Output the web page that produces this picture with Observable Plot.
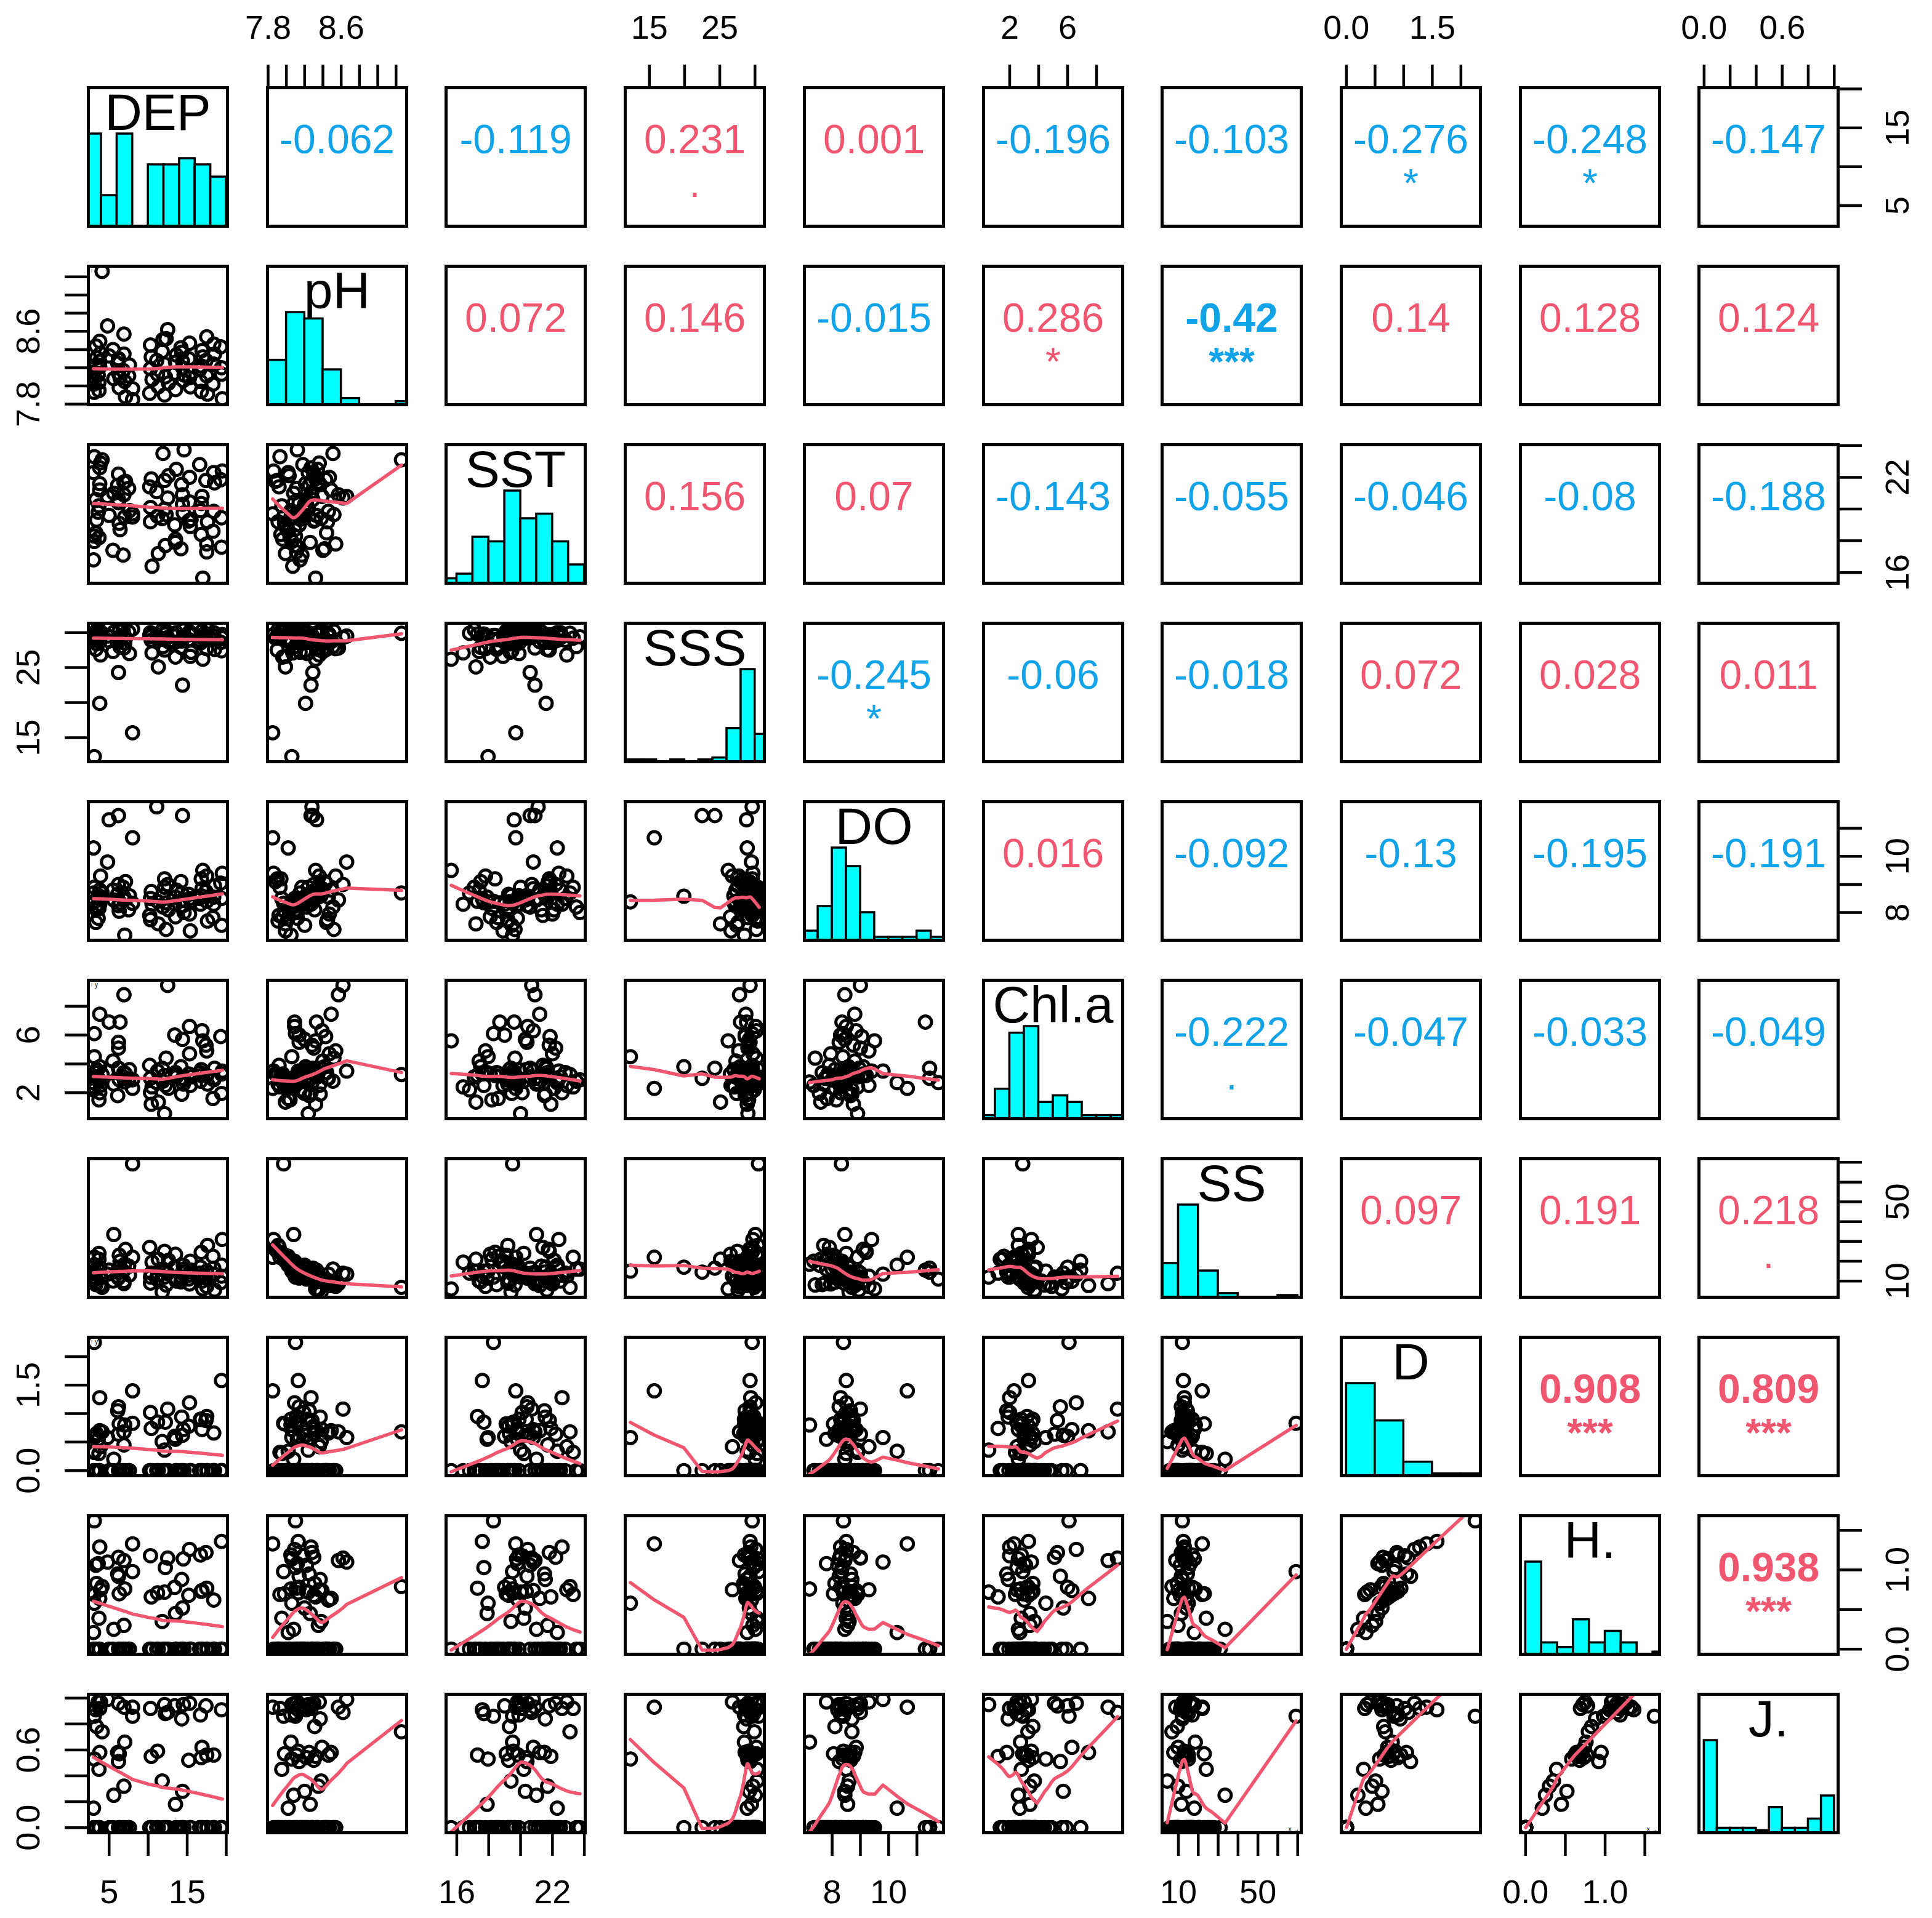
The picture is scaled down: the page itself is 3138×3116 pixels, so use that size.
<!DOCTYPE html>
<html>
<head>
<meta charset="utf-8">
<script src="https://cdn.jsdelivr.net/npm/d3@7"></script>
<script src="https://cdn.jsdelivr.net/npm/@observablehq/plot@0.6"></script>
<style>
html, body { margin: 0; padding: 0; background: #ffffff; }
#chart { position: relative; width: 3138px; height: 3116px; background: #ffffff; overflow: hidden; }
#chart svg { position: absolute; overflow: visible; background: transparent; }
</style>
</head>
<body>
<div id="chart"></div>
<script>
// ---------------- data (84 samples) ----------------
const names = ["DEP", "pH", "SST", "SSS", "DO", "Chl.a", "SS", "D", "H.", "J."];

const DEP = [3.1,3.0,3.1,3.3,3.1,3.4,3.0,3.3, 3.8,3.7,3.8,3.6,3.9,3.8,3.7, 4.1, 4.8,5.0, 5.6,5.5,
  6.2,6.1,6.3,6.2,6.2,6.4, 6.9,7.0,6.9,6.8,7.1, 7.6,7.5, 8.0,8.0, 10.3,10.4,10.2,10.5,10.3,
  11.2,11.1,11.3, 11.8,11.9, 12.1,12.2,12.1,12.3, 12.5,12.6, 13.5,13.4,13.6,13.5,
  14.4,14.3,14.5,14.4,14.6,14.2, 15.3,15.2,15.4,15.3,15.5, 16.8,16.7,16.9,16.8,16.6,17.0,
  17.5,17.4,17.6,17.5, 18.4,18.5,18.3,18.4, 19.4,19.3,19.5,19.4];

const pH = [8.10,8.02,8.06,8.22,7.93,8.31,8.15,8.44,8.27,7.95, 8.49,8.12,8.36,8.21,8.04,9.26,8.66,8.33,8.08,8.40,
  8.14,8.25,7.98,8.30,8.29,8.09,8.35,8.05,8.57,8.17, 7.88,8.23,8.11,7.97,7.85,8.19,8.32,7.92,8.07,8.45,
  8.13,8.28,7.99,8.38,8.51,8.24,8.10,7.90,8.52,8.62, 8.03,8.26,8.14,8.34,7.96,8.20,8.37,8.06,8.27,8.12,
  8.42,8.09,8.30,7.99,8.47,8.15,8.22,8.05,8.39,7.94, 8.18,8.32,8.11,8.28,7.91,8.54,8.46,8.35,8.02,8.24,
  8.13,8.43,7.86,8.20];

const SST = [18.3,22.3,17.96,20.6,23.3,19.3,16.8,18.5,22.6,20.2, 21.2,19.8,22.9,21.6,18.2,23.1,20.8,19.6,21.0,17.4,
  20.4,21.5,19.1,22.2,20.6,18.7,21.7,19.5,20.9,17.1, 21.75,19.9,21.3,19.5,19.7,20.1,21.9,21.4,16.4,19.2,
  19.55,21.1,17.2,19.4,23.5,20.0,17.7,21.8,19.65,20.7, 22.1,17.9,19.0,22.5,18.1,20.3,21.55,19.75,20.9,23.73,
  17.5,20.45,19.25,18.9,22.0,19.35,20.35,19.9,20.8,18.4, 22.8,15.65,17.3,21.8,19.2,17.8,19.85,21.65,18.6,22.3,
  17.6,21.85,22.4,19.45];

const SSS = [29.6,28.9,12.3,30.1,29.2,28.4,29.9,27.6,29.4,30.3, 28.7,30.6,26.8,19.9,29.1,29.9,29.5,28.8,30.05,27.3,
  29.3,28.6,30.2,29.0,24.3,27.95,29.7,28.5,27.8,30.4, 29.2,27.0,30.1,30.5,15.7,29.4,28.9,29.6,27.1,30.0,
  29.1,29.6,25.1,30.3,28.0,29.0,29.8,27.5,30.2,29.3, 28.7,29.5,28.6,30.0,26.5,29.2,28.8,30.35,22.5,29.4,
  27.9,30.1,29.0,26.6,29.7,27.2,29.3,28.5,30.2,29.6, 28.9,26.2,29.8,29.1,30.4,27.7,29.5,27.6,29.0,30.0,
  29.3,28.6,29.7,27.4];

const DO = [8.4,10.3,8.38,8.2,8.9,8.1,8.7,7.65,8.3,8.5, 8.8,7.8,9.3,8.58,8.15,8.7,9.8,11.3,8.45,8.8,
  8.25,8.65,8.05,9.0,11.45,8.35,8.55,7.2,8.45,8.9, 9.1,8.6,8.1,8.33,10.66,8.5,8.75,7.9,8.3,7.75,
  8.4,11.76,7.6,8.6,8.2,8.9,8.35,9.2,7.4,9.0, 8.1,8.55,8.3,8.8,7.85,8.45,8.7,8.25,11.45,8.0,
  9.1,8.5,8.65,7.35,7.95,8.4,8.6,8.3,8.85,9.2, 8.5,9.5,8.4,8.75,7.7,9.3,8.55,8.95,7.82,8.3,
  8.5,9.05,9.4,7.55];

const Chla = [6.1,2.7,4.5,3.1,2.4,3.6,2.2,3.4,2.0,2.8, 7.45,3.0,2.5,3.8,1.5,3.26,3.5,6.9,2.6,4.2,
  5.5,1.8,2.9,5.1,3.7,6.9,3.4,2.75,8.8,3.1, 3.3,3.6,2.9,2.9,2.3,2.0,1.2,3.9,2.4,3.0,
  3.5,2.7,1.35,3.7,2.8,0.55,2.5,3.2,4.4,9.45, 2.3,3.4,6.0,3.1,3.3,5.7,1.9,2.6,3.0,2.9,
  3.8,6.6,3.3,2.5,4.7,3.1,3.6,2.8,6.3,3.2, 3.4,5.6,3.2,5.3,2.6,4.9,3.0,3.7,1.6,2.9,
  3.3,5.9,3.5,1.95];

const SS = [12,18,15,11,22,9.4,14,8.2,13,24, 7.7,16,12.5,17,21,6.8,13.5,15.5,33.5,10,
  11.5,14.5,23,12,16.5,20,9.8,18.5,8.7,15, 26,13,17.5,69.2,22,12,14,27,19.5,9.0,
  13,11,21,4.4,16,12,15,25,8.0,13.9, 20.5,11.5,17,10,23.5,14,12,18,14.5,16,
  9.6,13,11,20,8.5,15.5,12.5,17,9.9,24.5, 14,6.0,15,11.5,28,7.3,13.5,5.5,22.5,16.5,
  12.5,9.2,31,18];

const D = [2.25,0.34,0.58,0.62,0.32,0.65,0,0,1.28,0.30, 0.70,0.55,0.42,0,0,0.68,0.58,0,0.20,0,
  1.12,1.05,0.82,0.64,0,0,0.45,0.80,0.68,0, 0,0,0,0.83,1.40,1.02,0.74,0,0,0,
  0.85,0,0,0.51,0,0.36,0.85,0,0,1.08, 0,0.55,0.60,0,0,0.62,0.94,0.72,0,0,
  0,1.19,0.78,0,0,0,0.90,0.90,0.72,0, 0,0,0.95,0.88,0,0,0.66,0,0,0,
  1.58,0,0,0];

const Hs = [1.62,0.21,0.58,1.06,0.69,0.83,0,0,1.29,0.39, 0.64,1.08,0.75,0,0,0.79,1.10,0,0.25,0,
  0.92,0.95,0.70,1.16,0,0,0.30,0.76,1.12,0, 0,0,0,0.98,1.33,1.18,0.66,0,0,0,
  0.71,0,0,0.35,0,0.72,1.03,0,0,1.15, 0,0.45,0.78,0,0,0.52,0.88,1.14,0,0,
  0,1.26,0.68,0,0,0,0.73,1.19,0.74,0, 0,0,0.77,1.22,0,0,0.62,0,0,0,
  1.36,0,0,0];

const Js = [0.86,0.15,0.53,0.91,0.92,0.78,0,0,0.92,0.45, 0.58,0.97,0.97,0,0,0.74,0.99,0,0.25,0,
  0.51,0.58,0.57,0.96,0,0,0.32,0.66,0.93,0, 0,0,0,0.86,0.93,0.92,0.55,0,0,0,
  0.59,0,0,0.36,0,0.95,0.88,0,0,0.89, 0,0.18,0.94,0,0,0.28,0.84,0.95,0,0,
  0,0.96,0.52,0,0,0,0.54,0.87,0.62,0, 0,0,0.56,0.94,0,0,0.56,0,0,0,
  0.91,0,0,0];

// histogram breaks (as in the diagonal panels)
const depBreaks = [2,4,6,8,10,12,14,16,18,20];
const phBreaks = [7.8,8.0,8.2,8.4,8.6,8.8,9.0,9.2,9.4];
const sstBreaks = [15,16,17,18,19,20,21,22,23,24];
const sssBreaks = [12,14,16,18,20,22,24,26,28,30,32];
const doBreaks = [7,7.5,8,8.5,9,9.5,10,10.5,11,11.5,12];
const chlBreaks = [0,1,2,3,4,5,6,7,8,9,10];
const ssBreaks = [0,10,20,30,40,50,60,70];
const dBreaks = [0,0.5,1,1.5,2,2.5];
const hBreaks = [0,0.2,0.4,0.6,0.8,1.0,1.2,1.4,1.6,1.8];
const jBreaks = [0,0.1,0.2,0.3,0.4,0.5,0.6,0.7,0.8,0.9,1.0];

// axis ticks and the tick labels that are printed
const depTicks = [5,10,15,20],            depLabels = ["5","15"];
const phTicks = [7.8,8.0,8.2,8.4,8.6,8.8,9.0,9.2], phLabels = ["7.8","8.6"];
const sstTicks = [16,18,20,22,24],        sstLabels = ["16","22"];
const sssTicks = [15,20,25,30],           sssLabels = ["15","25"];
const doTicks = [8,9,10,11],              doLabels = ["8","10"];
const chlTicks = [2,4,6,8],               chlLabels = ["2","6"];
const ssTicks = [10,20,30,40,50,60,70],   ssLabels = ["10","50"];
const dTicks = [0,0.5,1,1.5,2],           dLabels = ["0.0","1.5"];
const hTicks = [0,0.5,1,1.5],             hLabels = ["0.0","1.0"];
const jTicks = [0,0.2,0.4,0.6,0.8,1.0],   jLabels = ["0.0","0.6"];

// correlation coefficients (upper triangle, row by row) and significance marks
const corrValues = [
  -0.062, -0.119, 0.231, 0.001, -0.196, -0.103, -0.276, -0.248, -0.147,
  0.072, 0.146, -0.015, 0.286, -0.42, 0.14, 0.128, 0.124,
  0.156, 0.07, -0.143, -0.055, -0.046, -0.08, -0.188,
  -0.245, -0.06, -0.018, 0.072, 0.028, 0.011,
  0.016, -0.092, -0.13, -0.195, -0.191,
  -0.222, -0.047, -0.033, -0.049,
  0.097, 0.191, 0.218,
  0.908, 0.809,
  0.938];
const corrStars = [
  "", "", ".", "", "", "", "*", "*", "",
  "", "", "", "*", "***", "", "", "",
  "", "", "", "", "", "", "",
  "*", "", "", "", "", "",
  "", "", "", "", "",
  ".", "", "", "",
  "", "", ".",
  "***", "***",
  "***"];

// ---------------- helpers ----------------
const cols = [DEP, pH, SST, SSS, DO, Chla, SS, D, Hs, Js];
const breaksList = [depBreaks, phBreaks, sstBreaks, sssBreaks, doBreaks, chlBreaks, ssBreaks, dBreaks, hBreaks, jBreaks];
const ticksList = [depTicks, phTicks, sstTicks, sssTicks, doTicks, chlTicks, ssTicks, dTicks, hTicks, jTicks];
const labelsList = [depLabels, phLabels, sstLabels, sssLabels, doLabels, chlLabels, ssLabels, dLabels, hLabels, jLabels];

const FONT = "'Liberation Sans', Arial, Helvetica, sans-serif";
const RED = "#F0566F", BLUE = "#12A2E8", CYAN = "#00FFFF";
const X0 = 143, Y0 = 142, PX = 290.7, PY = 290, PW = 226, PHH = 225;

const usr = cols.map(v => { const [a, b] = d3.extent(v); const d = 0.04 * (b - a); return [a - d, b + d]; });

function hist(v, br) {
  const fuzz = 1e-7 * d3.median(d3.pairs(br, (a, b) => b - a));
  const fb = br.map((b, k) => k === 0 ? b - fuzz : b + fuzz);
  const counts = new Array(br.length - 1).fill(0);
  for (const x of v) {
    for (let k = 0; k < counts.length; k++) {
      if (x > fb[k] && x <= fb[k + 1]) { counts[k]++; break; }
    }
  }
  return counts.map((c, k) => ({x0: br[k], x1: br[k + 1], count: c}));
}

// port of R's lowess (clowess), f = 2/3, iter = 3
function lowess(xIn, yIn, f = 2 / 3, nsteps = 3) {
  const o = d3.range(xIn.length).sort((a, b) => (xIn[a] - xIn[b]) || (a - b));
  const x = o.map(i => xIn[i]), y = o.map(i => yIn[i]);
  const n = x.length;
  const ys = new Float64Array(n), rw = new Float64Array(n).fill(1), res = new Float64Array(n), w = new Float64Array(n);
  const range = x[n - 1] - x[0];
  const delta = 0.01 * range;
  const ns = Math.max(2, Math.min(n, Math.floor(f * n + 1e-7)));
  function lowest(xs, nleft, nright, userw) {
    const h = Math.max(xs - x[nleft], x[nright] - xs);
    const h9 = 0.999 * h, h1 = 0.001 * h;
    let a = 0, j = nleft;
    while (j < n) {
      w[j] = 0;
      const r = Math.abs(x[j] - xs);
      if (r <= h9) {
        w[j] = r <= h1 ? 1 : Math.pow(1 - Math.pow(r / h, 3), 3);
        if (userw) w[j] *= rw[j];
        a += w[j];
      } else if (x[j] > xs) break;
      j++;
    }
    const nrt = j - 1;
    if (a <= 0) return null;
    for (j = nleft; j <= nrt; j++) w[j] /= a;
    if (h > 0) {
      a = 0;
      for (j = nleft; j <= nrt; j++) a += w[j] * x[j];
      let b = xs - a, c = 0;
      for (j = nleft; j <= nrt; j++) c += w[j] * (x[j] - a) * (x[j] - a);
      if (Math.sqrt(c) > 0.001 * range) {
        b /= c;
        for (j = nleft; j <= nrt; j++) w[j] *= b * (x[j] - a) + 1;
      }
    }
    let s = 0;
    for (j = nleft; j <= nrt; j++) s += w[j] * y[j];
    return s;
  }
  for (let iter = 1; iter <= nsteps + 1; iter++) {
    let nleft = 0, nright = ns - 1, last = -1, i = 0;
    for (;;) {
      if (nright < n - 1) {
        const d1 = x[i] - x[nleft], d2 = x[nright + 1] - x[i];
        if (d1 > d2) { nleft++; nright++; continue; }
      }
      const v = lowest(x[i], nleft, nright, iter > 1);
      ys[i] = v === null ? y[i] : v;
      if (last < i - 1) {
        const denom = x[i] - x[last];
        for (let j = last + 1; j < i; j++) {
          const alpha = (x[j] - x[last]) / denom;
          ys[j] = alpha * ys[i] + (1 - alpha) * ys[last];
        }
      }
      last = i;
      const cut = x[last] + delta;
      for (i = last + 1; i < n; i++) {
        if (x[i] > cut) break;
        if (x[i] === x[last]) { ys[i] = ys[last]; last = i; }
      }
      i = Math.max(last + 1, i - 1);
      if (last >= n - 1) break;
    }
    for (let k = 0; k < n; k++) res[k] = y[k] - ys[k];
    if (iter > nsteps) break;
    const ar = Array.from(res, Math.abs);
    const sc = d3.sum(ar) / n;
    const s = ar.slice().sort((a, b) => a - b);
    const m1 = Math.floor(n / 2);
    const cmad = n % 2 === 0 ? 3 * (s[m1] + s[m1 - 1]) : 6 * s[m1];
    if (cmad < 1e-7 * sc) break;
    const c9 = 0.999 * cmad, c1 = 0.001 * cmad;
    for (let k = 0; k < n; k++) {
      const r = ar[k];
      rw[k] = r <= c1 ? 1 : r <= c9 ? Math.pow(1 - (r / cmad) * (r / cmad), 2) : 0;
    }
  }
  return Array.from(x, (xv, k) => ({x: xv, y: ys[k]}));
}

const corrMap = new Map();
{ let k = 0; for (let i = 0; i < 10; i++) for (let j = i + 1; j < 10; j++) { corrMap.set(i + "," + j, {v: corrValues[k], s: corrStars[k]}); k++; } }

function edgeMarks(i, j) {
  const m = [];
  const tk = {tickSize: 38, tickFormat: () => "", strokeWidth: 4.5};
  const lab = {fontSize: 54, fontFamily: FONT, lineAnchor: "middle", textAnchor: "middle", fill: "black"};
  if (i === 0 && j % 2 === 1) {
    m.push(Plot.axisX(ticksList[j], {anchor: "top", ...tk}));
    m.push(Plot.text(labelsList[j], {x: d => +d, text: d => d, frameAnchor: "top", dy: -97, ...lab}));
  }
  if (i === 9 && j % 2 === 0) {
    m.push(Plot.axisX(ticksList[j], {anchor: "bottom", ...tk}));
    m.push(Plot.text(labelsList[j], {x: d => +d, text: d => d, frameAnchor: "bottom", dy: 97, ...lab}));
  }
  if (j === 0 && i % 2 === 1) {
    m.push(Plot.axisY(ticksList[i], {anchor: "left", ...tk}));
    m.push(Plot.text(labelsList[i], {y: d => +d, text: d => d, frameAnchor: "left", dx: -97, rotate: -90, ...lab}));
  }
  if (j === 9 && i % 2 === 0) {
    m.push(Plot.axisY(ticksList[i], {anchor: "right", ...tk}));
    m.push(Plot.text(labelsList[i], {y: d => +d, text: d => d, frameAnchor: "right", dx: 97, rotate: -90, ...lab}));
  }
  return m;
}

function panel(i, j) {
  const frame = Plot.frame({stroke: "black", strokeWidth: 5});
  const base = {width: PW, height: PHH, margin: 0, style: {overflow: "visible", background: "transparent"}};
  if (i === j) {
    const bins = hist(cols[i], breaksList[i]);
    const mx = d3.max(bins, b => b.count);
    return Plot.plot({
      ...base,
      x: {domain: usr[j], axis: null},
      y: {domain: [0, 1.5 * mx], axis: null},
      marks: [
        Plot.rect(bins, {x1: "x0", x2: "x1", y1: 0, y2: "count", fill: CYAN, stroke: "black", strokeWidth: 3.5, clip: true}),
        Plot.text([names[i]], {text: d => d, frameAnchor: "top", lineAnchor: "top", dy: 9, fontSize: 84, fontFamily: FONT, fill: "black"}),
        frame
      ]
    });
  }
  if (i > j) {
    const xs = cols[j], ysv = cols[i];
    const idx = d3.range(xs.length);
    const sm = lowess(xs, ysv);
    return Plot.plot({
      ...base,
      x: {domain: usr[j], axis: null},
      y: {domain: usr[i], axis: null},
      marks: [
        Plot.dot(idx, {x: k => xs[k], y: k => ysv[k], r: 10, stroke: "black", strokeWidth: 5, fill: "none", clip: true}),
        Plot.line(sm, {x: "x", y: "y", stroke: RED, strokeWidth: 5.5, clip: true}),
        ...edgeMarks(i, j),
        frame
      ]
    });
  }
  const c = corrMap.get(i + "," + j);
  const col = c.v >= 0 ? RED : BLUE;
  const bold = c.s === "***";
  const marks = [
    Plot.text([String(c.v)], {text: d => d, frameAnchor: "top", dy: 85, lineAnchor: "middle", fontSize: 66, fontFamily: FONT, fontWeight: bold ? "bold" : "normal", fill: col})
  ];
  if (c.s) marks.push(Plot.text([c.s], {text: d => d, frameAnchor: "top", dy: 157, lineAnchor: "middle", fontSize: 64, fontFamily: FONT, fontWeight: bold ? "bold" : "normal", fill: col}));
  return Plot.plot({
    ...base,
    x: {domain: usr[j], axis: null},
    y: {domain: usr[i], axis: null},
    marks: [...marks, ...edgeMarks(i, j), frame]
  });
}

const chart = document.getElementById("chart");
for (let i = 0; i < 10; i++) {
  for (let j = 0; j < 10; j++) {
    const svg = panel(i, j);
    svg.style.position = "absolute";
    svg.style.left = (X0 + j * PX) + "px";
    svg.style.top = (Y0 + i * PY) + "px";
    svg.style.overflow = "visible";
    svg.style.maxWidth = "none";
    chart.appendChild(svg);
  }
}
</script>
</body>
</html>
